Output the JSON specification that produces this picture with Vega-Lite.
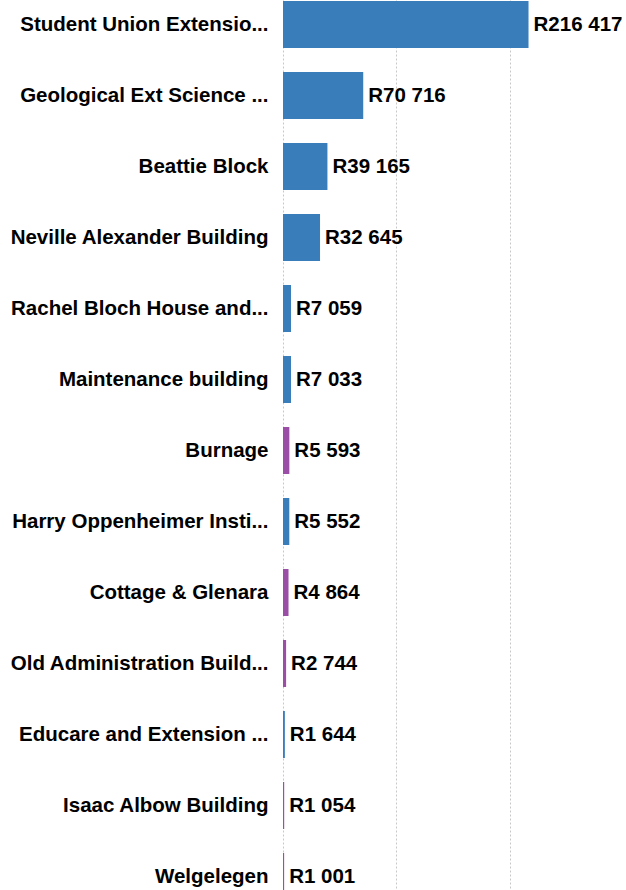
{
  "$schema": "https://vega.github.io/schema/vega-lite/v6.json",
  "width": 329,
  "height": 923,
  "autosize": {"type": "none"},
  "padding": {"left": 283, "top": -11, "right": 14, "bottom": 0},
  "background": "white",
  "config": {
    "view": {"stroke": null},
    "font": "Liberation Sans",
    "locale": {
      "number": {"decimal": ".", "thousands": " ", "grouping": [3], "currency": ["R", ""]}
    }
  },
  "data": {
    "values": [
      {"building": "Student Union Extensio...", "cost": 216417, "kind": "A"},
      {"building": "Geological Ext Science ...", "cost": 70716, "kind": "A"},
      {"building": "Beattie Block", "cost": 39165, "kind": "A"},
      {"building": "Neville Alexander Building", "cost": 32645, "kind": "A"},
      {"building": "Rachel Bloch House and...", "cost": 7059, "kind": "A"},
      {"building": "Maintenance building", "cost": 7033, "kind": "A"},
      {"building": "Burnage", "cost": 5593, "kind": "B"},
      {"building": "Harry Oppenheimer Insti...", "cost": 5552, "kind": "A"},
      {"building": "Cottage & Glenara", "cost": 4864, "kind": "B"},
      {"building": "Old Administration Build...", "cost": 2744, "kind": "B"},
      {"building": "Educare and Extension ...", "cost": 1644, "kind": "A"},
      {"building": "Isaac Albow Building", "cost": 1054, "kind": "B"},
      {"building": "Welgelegen", "cost": 1001, "kind": "B"}
    ]
  },
  "encoding": {
    "y": {
      "field": "building",
      "type": "nominal",
      "sort": {"field": "cost", "order": "descending"},
      "scale": {"paddingInner": 0.338, "paddingOuter": 0.169},
      "axis": {
        "title": null,
        "domain": false,
        "ticks": false,
        "labelPadding": 15,
        "labelLimit": 0,
        "labelFontSize": 20.5,
        "labelFontWeight": "bold",
        "labelColor": "#000000",
        "labelFont": "Liberation Sans"
      }
    },
    "x": {
      "field": "cost",
      "type": "quantitative",
      "scale": {"domain": [0, 290000], "nice": false},
      "axis": {
        "title": null,
        "values": [0, 100000, 200000],
        "labels": false,
        "ticks": false,
        "domain": false,
        "grid": true,
        "gridColor": "#c8c8c8",
        "gridDash": [2, 2],
        "gridWidth": 1
      }
    }
  },
  "layer": [
    {
      "mark": {"type": "bar"},
      "encoding": {
        "color": {
          "field": "kind",
          "type": "nominal",
          "scale": {"domain": ["A", "B"], "range": ["#3a7dbb", "#9a4ea6"]},
          "legend": null
        }
      }
    },
    {
      "mark": {
        "type": "text",
        "align": "left",
        "baseline": "middle",
        "dx": 5,
        "fontSize": 20.5,
        "fontWeight": "bold",
        "color": "#000000",
        "font": "Liberation Sans"
      },
      "encoding": {
        "text": {"field": "cost", "type": "quantitative", "format": "$,d"}
      }
    }
  ]
}
